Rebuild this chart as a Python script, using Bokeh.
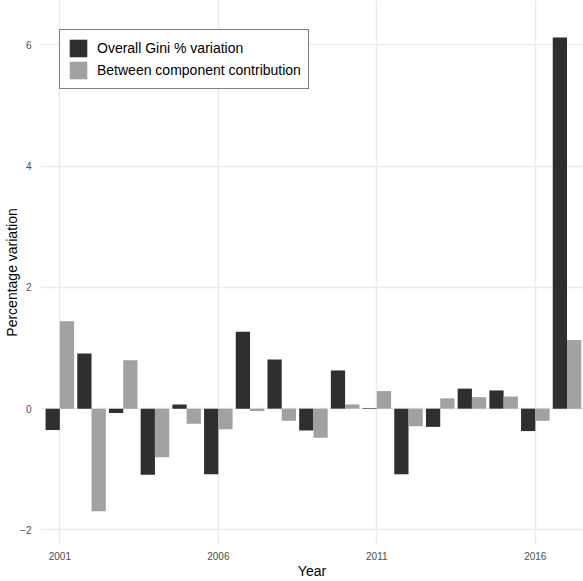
from bokeh.plotting import figure
from bokeh.models import ColumnDataSource, FixedTicker, Range1d, Legend
from bokeh.transform import dodge
from bokeh.embed import file_html
from bokeh.resources import INLINE

years = [2001, 2002, 2003, 2004, 2005, 2006, 2007, 2008, 2009, 2010, 2011, 2012, 2013, 2014, 2015, 2016, 2017]
overall = [-0.35, 0.91, -0.07, -1.09, 0.07, -1.08, 1.27, 0.81, -0.36, 0.63, 0.01, -1.08, -0.30, 0.33, 0.30, -0.37, 6.12]
between = [1.44, -1.69, 0.80, -0.80, -0.25, -0.34, -0.04, -0.20, -0.48, 0.07, 0.29, -0.29, 0.17, 0.19, 0.20, -0.20, 1.13]
x_ticks = [2001, 2006, 2011, 2016]
y_ticks = [-2, 0, 2, 4, 6]
series_names = ["Overall Gini % variation", "Between component contribution"]

FONT = "Liberation Sans"
DARK = "#2f2f2f"
LIGHT = "#a1a1a1"

source = ColumnDataSource(dict(year=years, overall=overall, between=between))

p = figure(width=583, height=581, output_backend="svg", toolbar_location=None,
           x_range=Range1d(2000.39, 2017.52), y_range=Range1d(-2.24, 6.73),
           min_border_left=40, min_border_right=0, min_border_top=0, min_border_bottom=0)
p.outline_line_color = None
p.background_fill_color = "white"
p.border_fill_color = "white"

r1 = p.vbar(x=dodge("year", -0.225), top="overall", bottom=0, width=0.45,
            source=source, fill_color=DARK, line_color=None)
r2 = p.vbar(x=dodge("year", 0.225), top="between", bottom=0, width=0.45,
            source=source, fill_color=LIGHT, line_color=None)

# axes
p.xaxis.ticker = FixedTicker(ticks=x_ticks)
p.yaxis.ticker = FixedTicker(ticks=y_ticks)
p.yaxis.major_label_overrides = {-2: "\u22122"}
for ax in (p.xaxis[0], p.yaxis[0]):
    ax.axis_line_color = None
    ax.major_tick_line_color = None
    ax.minor_tick_line_color = None
    ax.major_label_text_font = FONT
    ax.major_label_text_font_size = "10px"
    ax.major_label_text_color = "#4d4d4d"
    ax.axis_label_text_font = FONT
    ax.axis_label_text_font_size = "14px"
    ax.axis_label_text_font_style = "normal"
    ax.axis_label_text_color = "black"
p.xaxis.axis_label = "Year"
p.yaxis.axis_label = "Percentage variation"
p.xaxis.major_label_standoff = 1
p.xaxis.axis_label_standoff = 0
p.yaxis.major_label_standoff = 3
p.yaxis.axis_label_standoff = -3

# grid
p.xgrid.ticker = FixedTicker(ticks=x_ticks)
p.ygrid.ticker = FixedTicker(ticks=y_ticks)
for g in (p.xgrid[0], p.ygrid[0]):
    g.grid_line_color = "#ebebeb"
    g.grid_line_width = 1.5
    g.minor_grid_line_color = None

legend = Legend(items=[(series_names[0], [r1]), (series_names[1], [r2])],
                location=(19, 455), orientation="vertical")
legend.glyph_width = 22
legend.glyph_height = 22
legend.label_height = 22
legend.spacing = 0
legend.padding = 7
legend.margin = 0
legend.label_standoff = 8
legend.label_text_font = FONT
legend.label_text_font_size = "14px"
legend.label_text_color = "black"
legend.border_line_color = "black"
legend.border_line_width = 1
legend.background_fill_color = "white"
legend.background_fill_alpha = 1
p.add_layout(legend, "center")

open("out.html", "w").write(file_html(p, INLINE))
